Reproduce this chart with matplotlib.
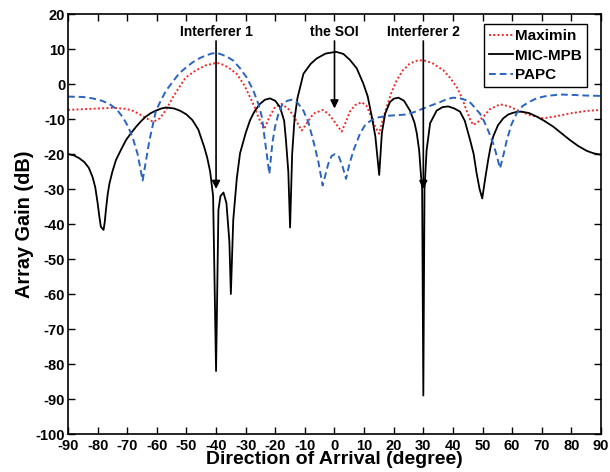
import matplotlib
matplotlib.use("Agg")
import matplotlib.pyplot as plt

plt.rcParams['font.family'] = ['Liberation Sans', 'DejaVu Sans']
plt.rcParams['font.weight'] = 'bold'
plt.rcParams['axes.unicode_minus'] = False

# ---- data ----
mic_x = [-90, -88, -86.2, -84.5, -83, -81.7, -80.8, -80, -79.4, -78.9, -78, -77.6, -77.2, -76.6, -76, -75, -73.8,
         -72, -70.4, -68.7, -67, -65.3, -63.7, -62, -60.3, -58.5, -56.9, -54.1, -52, -50,
         -48, -46, -44, -43, -42, -41, -40, -39.2, -38.5, -37.5, -36.5, -35.5, -35, -34.2, -33, -31.9, -30, -28.5,
         -27, -25.2, -23.5, -21.8, -20, -18.4, -17, -16.4, -15.6, -15, -14.3, -13.5, -12.5, -10.5, -8, -6, -3, 0.5,
         3, 5.2, 7.5, 9.7, 11.2, 12.6, 13.8, 15.1, 16, 17.1, 18.7, 20, 21.6, 23.5, 25.5, 27, 27.8, 28.6, 29.2, 29.6,
         30, 30.4, 31.1, 32.3, 34.5, 36.5, 38.4, 40.5, 42.4, 44, 45.8, 47, 48, 49, 49.9, 50.9, 51.9, 52.7, 53.6,
         55.2, 57, 58.7, 60.4, 62, 63.2, 65.7, 68.3, 71, 73.9, 76.7, 79.5, 82.3, 85.2, 87.5, 90]
mic_y = [-20.0, -20.4, -21.2, -22.3, -23.9, -26.6, -29.5, -34.0, -38.0, -40.8, -41.7, -39.5, -36.0, -31.5, -28.4,
         -25.0, -21.7, -18.6, -16.0, -14.0, -12.2, -10.6, -9.3, -8.3, -7.6, -7.0, -6.7, -7.0, -7.7, -8.7,
         -10.3, -13, -18, -21, -25, -32, -82, -36, -32, -31, -34, -45, -60, -38.9, -27, -19.8, -14,
         -10.3, -7.8, -5.7, -4.5, -4.1, -4.8, -6.6, -10.5, -16, -25, -41, -20, -10, -4, 2.9, 5.8, 7.3, 8.7, 9.2,
         8.6, 6.9, 4.5, 0.2, -3.5, -9.3, -15, -26, -14, -8.5, -5.2, -4.2, -3.9, -4.8, -7.6, -11, -14.1, -19, -26,
         -30, -89, -30, -19, -11.2, -7.6, -6.6, -6.4, -7, -7.9, -10.5, -16, -20, -25.5, -30, -32.7, -27, -21.7,
         -18, -15, -11.8, -9.8, -8.7, -8.2, -7.9, -7.9, -8.3, -9.3, -10.6, -12.2, -14.1, -16, -17.7, -19.1, -19.8,
         -20.2]

maximin_x = [-90, -85, -80, -75, -70.4, -68, -65.9, -63.5, -61.2, -59, -56.9, -54.6, -52.5, -50.2, -47, -43.6,
             -40.1, -38.7, -36, -33, -30.5, -28.5, -27, -25.7, -23.7, -22, -20.1, -17.8, -15.5, -13.9, -11.1, -9,
             -7.2, -4, -2, -0.4, 2.4, 4, 5.2, 7, 9.2, 10.8, 12, 13.8, 15.1, 16.2, 17.6, 19.2, 21, 23, 25.5, 28, 30,
             33, 36.8, 39, 41.3, 43, 44.6, 46, 46.9, 48.5, 50.3, 52.5, 55.9, 59, 61.5, 66, 70.5, 75, 79.5, 85, 90]
maximin_y = [-7.4, -7.2, -7.0, -6.8, -7.1, -7.7, -8.6, -9.8, -10.8, -9.8, -7.4, -3.8, -1.0, 1.9, 3.8, 5.3,
             6.0, 5.9, 4.8, 2.9, -0.3, -3.8, -6.5, -9.5, -12.9, -9.5, -6.6, -5.7, -7.2, -9, -13.3, -10.8,
             -8.5, -7.4, -8.5, -10.3, -13.6, -10.5, -7.9, -6, -5.2, -6.2, -8.5, -12.3, -14.2, -10.5, -6.6, -2.5,
             1.0, 3.8, 5.9, 6.7, 6.8, 6.0, 3.9, 1.8, -0.9, -3.8, -7.6, -10.5, -11.7, -10.8, -9.3, -7.2, -5.8, -6.4,
             -7.4, -8.9, -9.8, -9.2, -8.4, -7.7, -7.4]

papc_x = [-90, -85, -81.7, -78.5, -76, -73.5, -71.5, -69.8, -68.2, -66.5, -64.8, -63.5, -62.5, -60.3, -58.5,
          -56.9, -54.5, -52.4, -50, -47.9, -45.5, -43.6, -41.5, -39.8, -38.7, -36.5, -34.2, -32, -29.7, -27.5,
          -25.7, -24.5, -23.5, -22, -21, -20.1, -19, -17.8, -16, -14.5, -12.5, -10.5, -8.8, -7.2, -5.5, -4, -2.1,
          -1, 0.2, 1.5, 2.7, 3.9, 5, 6.4, 8.6, 10.5, 13.1, 15, 17.6, 21, 24.4, 27, 30, 33, 35.6, 38, 40.1, 42.5,
          45.2, 46.3, 47.8, 49.1, 50.5, 52, 53.6, 54.8, 55.9, 57, 58.2, 59.8, 61.5, 63.5, 66, 68.5, 71.7, 76.2,
          80, 85, 90]
papc_y = [-3.6, -3.7, -4.1, -4.8, -5.7, -7.3, -9.5, -12, -15.2, -20, -27.6, -21, -16.1, -7.6, -4.5,
          -1.9, 0.8, 3.1, 4.8, 6.2, 7.4, 8.1, 8.7, 8.9, 8.6, 7.9, 6.7, 4.6, 1.9, -1.7,
          -5.7, -9.5, -16.1, -25.7, -17, -12.3, -8.7, -6.1, -4.8, -4.5, -5.3, -7.6, -11, -16.1, -22, -29, -22.8,
          -20.6, -20, -20.8, -23.5, -27.1, -23, -19, -14.2, -11.5, -10, -9.5, -9.1, -8.9, -8.7, -8.0, -7.0, -6.0,
          -5.2, -4.3, -3.9, -4.1, -4.8, -5.7, -7.2, -8.4, -10.6, -13.5, -17, -20.5, -24.1, -20.5, -16, -11.5,
          -8.4, -6.3, -5.0, -4.0, -3.4, -3.0, -3.1, -3.3, -3.4]

labels = ["Maximin", "MIC-MPB", "PAPC"]
ann_text = ["Interferer 1", "the SOI", "Interferer 2"]
ann_x = [-40, 0, 30]
ann_tip = [-30, -7, -30]
x_ticks = list(range(-90, 91, 10))
y_ticks = list(range(-100, 21, 10))

fig = plt.figure(figsize=(6.10, 4.72), dpi=100)
ax = fig.add_axes([0.1115, 0.0805, 0.8737, 0.8898])

ax.plot(maximin_x, maximin_y, linestyle=(0, (1, 1.2)), color='#ee2a2a', lw=1.4, label=labels[0])
ax.plot(mic_x, mic_y, '-', color='black', lw=1.3, label=labels[1])
ax.plot(papc_x, papc_y, linestyle=(0, (3.5, 2)), color='#2a64c0', lw=1.4, label=labels[2])

for t, xa, tip in zip(ann_text, ann_x, ann_tip):
    ax.annotate('', xy=(xa, tip), xytext=(xa, 12.3),
                arrowprops=dict(arrowstyle='-|>', color='black', lw=1.2, mutation_scale=12, shrinkA=0, shrinkB=0))
    ax.text(xa, 15, t, ha='center', va='center', fontsize=10, fontweight='bold')

ax.set_xlim(-90, 90)
ax.set_ylim(-100, 20)
ax.set_xticks(x_ticks)
ax.set_yticks(y_ticks)
ax.tick_params(direction='in', top=True, right=True, length=5, width=1, labelsize=10.5)
ax.tick_params(axis='x', pad=3.5)
ax.tick_params(axis='y', pad=2)
for s in ax.spines.values():
    s.set_linewidth(1.2)
ax.set_xlabel('Direction of Arrival (degree)', fontsize=14, fontweight='bold', labelpad=-1)
ax.set_ylabel('Array Gain (dB)', fontsize=14.3, fontweight='bold', labelpad=1)

leg = ax.legend(loc='upper right', fontsize=11, handlelength=1.55, handletextpad=0.13, borderpad=0.35,
                labelspacing=0.35, fancybox=False, edgecolor='black', framealpha=1,
                borderaxespad=0, bbox_to_anchor=(0.974, 0.976))
leg.get_frame().set_linewidth(1.0)
for t in leg.get_texts():
    t.set_fontweight('bold')

fig.savefig('out.png', dpi=100)
